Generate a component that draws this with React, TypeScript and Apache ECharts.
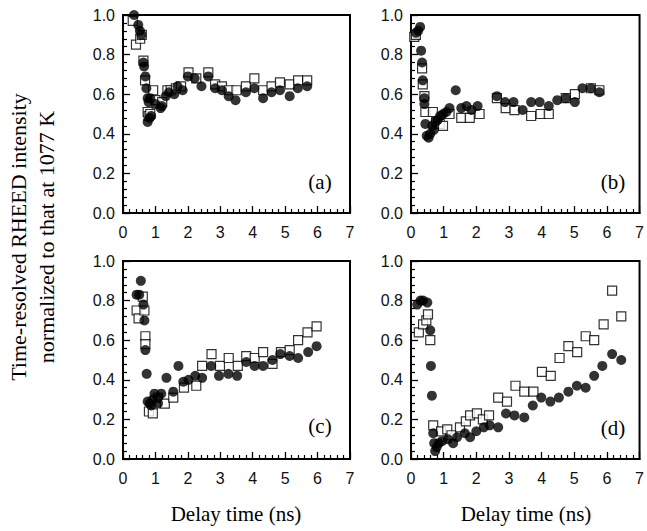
import React, { useEffect, useRef } from "react";
import * as echarts from "echarts";

const xTickLabels = ["0", "1", "2", "3", "4", "5", "6", "7"];
const yTickLabels = ["0.0", "0.2", "0.4", "0.6", "0.8", "1.0"];
const panelLabels = ["(a)", "(b)", "(c)", "(d)"];
const xTitle = "Delay time (ns)";
const yTitleLines = ["Time-resolved RHEED intensity", "normalized to that at 1077 K"];

const aFilled: number[][] = [
  [0.34, 1.0], [0.47, 0.95], [0.52, 0.92], [0.57, 0.9], [0.63, 0.76], [0.65, 0.74], [0.69, 0.69],
  [0.72, 0.63], [0.76, 0.58], [0.79, 0.56], [0.76, 0.46], [0.82, 0.48], [0.87, 0.49], [0.84, 0.58],
  [1.0, 0.55], [1.16, 0.53], [1.2, 0.54], [1.32, 0.59], [1.42, 0.61], [1.58, 0.6], [1.68, 0.64],
  [1.84, 0.62], [2.0, 0.69], [2.21, 0.68], [2.42, 0.64], [2.63, 0.69], [2.84, 0.63], [3.05, 0.62],
  [3.26, 0.59], [3.47, 0.57], [3.79, 0.61], [4.05, 0.63], [4.32, 0.58], [4.58, 0.61], [4.84, 0.62],
  [5.14, 0.59], [5.39, 0.63], [5.68, 0.64],
];
const aOpen: number[][] = [
  [0.3, 0.97], [0.4, 0.85], [0.53, 0.88], [0.58, 0.9], [0.63, 0.77], [0.68, 0.67], [0.76, 0.51],
  [0.79, 0.49], [0.84, 0.5], [0.93, 0.62], [1.0, 0.57], [1.21, 0.56], [1.37, 0.62], [1.47, 0.62],
  [1.63, 0.63], [1.79, 0.64], [2.02, 0.71], [2.26, 0.68], [2.63, 0.71], [2.84, 0.65], [3.05, 0.64],
  [3.26, 0.62], [3.5, 0.62], [3.79, 0.64], [4.05, 0.68], [4.32, 0.62], [4.58, 0.64], [4.84, 0.66],
  [5.14, 0.65], [5.4, 0.67], [5.68, 0.67],
];
const bFilled: number[][] = [
  [0.15, 0.91], [0.22, 0.92], [0.28, 0.94], [0.31, 0.82], [0.34, 0.76], [0.36, 0.67], [0.41, 0.58],
  [0.41, 0.55], [0.44, 0.45], [0.48, 0.39], [0.54, 0.38], [0.59, 0.4], [0.65, 0.44], [0.7, 0.42],
  [0.75, 0.46], [0.82, 0.47], [0.89, 0.49], [0.98, 0.5], [1.08, 0.51], [1.18, 0.53], [1.37, 0.62],
  [1.54, 0.53], [1.7, 0.54], [1.85, 0.52], [2.04, 0.54], [2.63, 0.59], [2.88, 0.56], [3.14, 0.56],
  [3.42, 0.52], [3.68, 0.56], [3.94, 0.56], [4.22, 0.54], [4.48, 0.57], [4.74, 0.58], [5.02, 0.56],
  [5.25, 0.63], [5.51, 0.63], [5.77, 0.61],
];
const bOpen: number[][] = [
  [0.1, 0.89], [0.15, 0.9], [0.34, 0.73], [0.36, 0.65], [0.41, 0.59], [0.44, 0.51], [0.67, 0.51],
  [0.77, 0.46], [0.88, 0.45], [0.98, 0.44], [1.18, 0.5], [1.54, 0.48], [1.8, 0.48], [2.1, 0.5],
  [2.63, 0.58], [2.9, 0.53], [3.17, 0.52], [3.68, 0.49], [3.97, 0.5], [4.22, 0.5], [4.74, 0.58],
  [5.02, 0.6], [5.51, 0.63], [5.77, 0.62],
];
const cFilled: number[][] = [
  [0.42, 0.83], [0.5, 0.83], [0.55, 0.9], [0.63, 0.78], [0.66, 0.7], [0.69, 0.55], [0.73, 0.43],
  [0.76, 0.29], [0.82, 0.28], [0.87, 0.27], [0.92, 0.3], [0.97, 0.33], [1.08, 0.31], [1.08, 0.28],
  [1.18, 0.33], [1.34, 0.41], [1.55, 0.34], [1.71, 0.47], [1.86, 0.39], [2.02, 0.4], [2.23, 0.42],
  [2.44, 0.41], [2.72, 0.47], [2.96, 0.42], [3.25, 0.43], [3.52, 0.42], [3.8, 0.49], [4.06, 0.47],
  [4.32, 0.47], [4.61, 0.5], [4.85, 0.53], [5.14, 0.52], [5.4, 0.51], [5.71, 0.54], [5.97, 0.57],
];
const cOpen: number[][] = [
  [0.42, 0.75], [0.48, 0.71], [0.61, 0.82], [0.66, 0.75], [0.69, 0.62], [0.69, 0.58], [0.8, 0.24],
  [0.92, 0.23], [1.08, 0.31], [1.29, 0.28], [1.55, 0.31], [1.88, 0.36], [2.26, 0.37], [2.44, 0.47],
  [2.73, 0.53], [2.99, 0.47], [3.26, 0.51], [3.54, 0.47], [3.8, 0.52], [4.06, 0.51], [4.32, 0.54],
  [4.61, 0.48], [4.87, 0.54], [5.14, 0.55], [5.4, 0.6], [5.69, 0.64], [5.97, 0.67],
];
const dFilled: number[][] = [
  [0.19, 0.78], [0.29, 0.8], [0.37, 0.8], [0.5, 0.79], [0.59, 0.65], [0.61, 0.47], [0.64, 0.32],
  [0.68, 0.13], [0.71, 0.08], [0.74, 0.04], [0.79, 0.06], [0.85, 0.08], [0.95, 0.09], [1.13, 0.1],
  [1.29, 0.08], [1.41, 0.11], [1.65, 0.13], [1.81, 0.11], [2.0, 0.14], [2.23, 0.16], [2.41, 0.17],
  [2.67, 0.16], [2.91, 0.23], [3.17, 0.22], [3.47, 0.21], [3.73, 0.27], [3.99, 0.31], [4.27, 0.29],
  [4.53, 0.31], [4.82, 0.34], [5.08, 0.37], [5.35, 0.36], [5.61, 0.42], [5.86, 0.47], [6.16, 0.53],
  [6.44, 0.5],
];
const dOpen: number[][] = [
  [0.24, 0.64], [0.37, 0.68], [0.47, 0.7], [0.52, 0.73], [0.59, 0.6], [0.68, 0.17], [0.92, 0.14],
  [1.11, 0.15], [1.24, 0.12], [1.5, 0.16], [1.68, 0.19], [1.81, 0.22], [2.02, 0.23], [2.2, 0.2],
  [2.39, 0.22], [2.67, 0.31], [2.94, 0.29], [3.2, 0.37], [3.47, 0.34], [3.75, 0.34], [4.01, 0.44],
  [4.28, 0.42], [4.55, 0.51], [4.82, 0.57], [5.09, 0.54], [5.35, 0.62], [5.61, 0.6], [5.9, 0.68],
  [6.16, 0.85], [6.44, 0.72],
];

const filledSets = [aFilled, bFilled, cFilled, dFilled];
const openSets = [aOpen, bOpen, cOpen, dOpen];

export default function App() {
  const ref = useRef<HTMLDivElement>(null);
  useEffect(() => {
    document.body.style.margin = "0";
    if (!ref.current) return;
    const chart = echarts.init(ref.current, null, { renderer: "svg" });
    const grids = [
      { left: 123, top: 15, width: 227, height: 198 },
      { left: 411, top: 15, width: 231, height: 198 },
      { left: 123, top: 261, width: 227, height: 198 },
      { left: 411, top: 261, width: 231, height: 198 },
    ];
    const sans = "Liberation Sans, Arial, sans-serif";
    const serif = "Liberation Serif, Times New Roman, serif";
    const xAxes = grids.map((_, i) => ({
      type: "value",
      gridIndex: i,
      min: 0,
      max: 7,
      interval: 1,
      axisLine: { show: true, onZero: false, lineStyle: { color: "#000", width: 2 } },
      axisTick: { show: true, inside: true, length: 7, lineStyle: { color: "#000", width: 1.3 } },
      minorTick: { show: true, splitNumber: 5, length: 4, lineStyle: { color: "#000", width: 1.2 } },
      splitLine: { show: false },
      axisLabel: {
        margin: 11,
        fontSize: 16,
        color: "#111",
        fontFamily: sans,
        formatter: (v: number) => xTickLabels[Math.round(v)] ?? "",
      },
    }));
    const yAxes = grids.map((_, i) => ({
      type: "value",
      gridIndex: i,
      min: 0,
      max: 1,
      interval: 0.2,
      axisLine: { show: true, onZero: false, lineStyle: { color: "#000", width: 2 } },
      axisTick: { show: true, inside: true, length: 7, lineStyle: { color: "#000", width: 1.3 } },
      minorTick: { show: true, splitNumber: 5, length: 4, lineStyle: { color: "#000", width: 1.2 } },
      splitLine: { show: false },
      axisLabel: {
        margin: 8,
        fontSize: 16,
        color: "#111",
        fontFamily: sans,
        formatter: (v: number) => yTickLabels[Math.round(v * 5)] ?? "",
      },
    }));
    const series: any[] = [];
    for (let i = 0; i < 4; i++) {
      series.push({
        type: "scatter",
        xAxisIndex: i,
        yAxisIndex: i,
        data: openSets[i],
        symbol: "rect",
        symbolSize: 9,
        itemStyle: { color: "#fff", borderColor: "#000", borderWidth: 1.2 },
        silent: true,
      });
      series.push({
        type: "scatter",
        xAxisIndex: i,
        yAxisIndex: i,
        data: filledSets[i],
        symbol: "circle",
        symbolSize: 10,
        itemStyle: { color: "#000" },
        silent: true,
      });
    }
    const labelPos = [
      [320, 182],
      [613, 182],
      [320, 426],
      [613, 428],
    ];
    const graphics: any[] = [];
    labelPos.forEach((p, i) =>
      graphics.push({
        type: "text",
        x: p[0],
        y: p[1],
        style: {
          text: panelLabels[i],
          font: `21px ${serif}`,
          fill: "#000",
          textAlign: "center",
          textVerticalAlign: "middle",
        },
      })
    );
    [236, 526].forEach((cx) =>
      graphics.push({
        type: "text",
        x: cx,
        y: 514,
        style: {
          text: xTitle,
          font: `21px ${serif}`,
          fill: "#000",
          textAlign: "center",
          textVerticalAlign: "middle",
        },
      })
    );
    [18, 46].forEach((cx, k) =>
      graphics.push({
        type: "text",
        x: cx,
        y: 237,
        rotation: Math.PI / 2,
        style: {
          text: yTitleLines[k],
          font: `22px ${serif}`,
          fill: "#000",
          textAlign: "center",
          textVerticalAlign: "middle",
        },
      })
    );
    chart.setOption({
      animation: false,
      backgroundColor: "#fff",
      grid: grids.map((g) => ({ ...g, show: true, borderColor: "#000", borderWidth: 2, backgroundColor: "transparent" })),
      xAxis: xAxes,
      yAxis: yAxes,
      series,
      graphic: graphics,
    });
    return () => chart.dispose();
  }, []);
  return <div ref={ref} style={{ width: 647, height: 531 }} />;
}
